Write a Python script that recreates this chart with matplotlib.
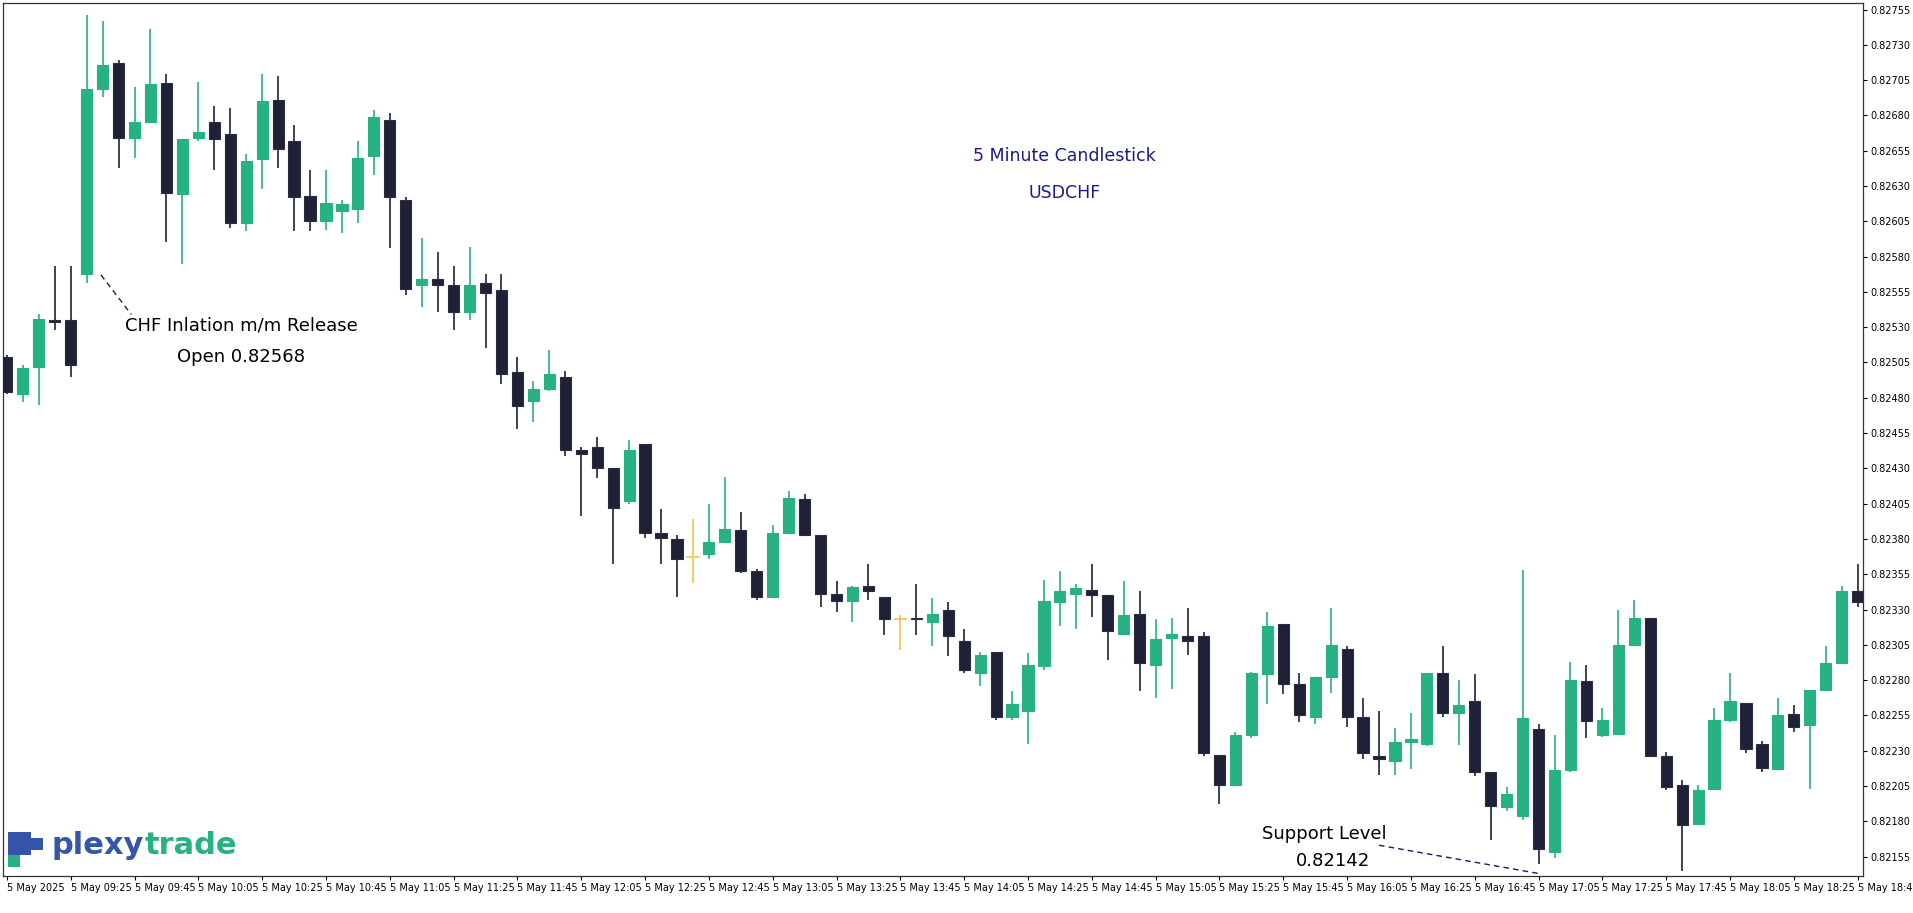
import matplotlib
matplotlib.use("Agg")
import matplotlib.pyplot as plt
from matplotlib.patches import Rectangle

# OHLC in 1e-5 price units (0.8xxxx)
opens = [82509,82483,82502,82535,82535,82568,82699,82717,82664,82675,82703,82624,82664,82675,82667,82604,82649,82691,82662,82623,
         82605,82612,82614,82651,82677,82620,82560,82564,82560,82541,82561,82556,82498,82478,82486,82495,82443,82445,82430,82407,
         82447,82384,82380,82367,82369,82378,82386,82357,82339,82384,82408,82383,82341,82336,82347,82339,82323,82324,82321,82330,
         82308,82285,82300,82254,82258,82290,82335,82341,82344,82340,82313,82327,82291,82310,82311,82311,82227,82206,82241,82284,
         82320,82277,82254,82282,82302,82254,82226,82223,82236,82235,82285,82257,82265,82215,82190,82184,82245,82158,82216,82279,
         82241,82242,82305,82324,82226,82206,82178,82203,82252,82264,82235,82217,82256,82248,82273,82292,82343]
highs = [82510,82503,82539,82573,82573,82751,82747,82719,82700,82741,82709,82663,82704,82687,82685,82653,82709,82708,82673,82641,
         82641,82620,82662,82684,82682,82622,82593,82583,82573,82587,82568,82568,82509,82492,82514,82499,82445,82452,82430,82450,
         82447,82401,82383,82394,82405,82424,82399,82359,82390,82414,82412,82383,82350,82347,82362,82339,82326,82348,82338,82335,
         82316,82300,82300,82272,82299,82351,82357,82348,82362,82340,82350,82343,82323,82324,82331,82314,82227,82243,82286,82328,
         82320,82285,82282,82331,82304,82267,82258,82246,82257,82285,82304,82280,82284,82215,82204,82358,82249,82241,82293,82291,
         82260,82330,82337,82324,82229,82209,82206,82260,82285,82264,82237,82267,82262,82273,82304,82347,82362]
lows  = [82483,82477,82475,82528,82495,82561,82693,82643,82650,82675,82590,82575,82662,82641,82600,82598,82628,82643,82598,82598,
         82599,82597,82604,82638,82586,82553,82544,82541,82528,82535,82515,82490,82458,82463,82485,82439,82396,82423,82362,82405,
         82381,82362,82339,82349,82366,82378,82356,82337,82339,82384,82382,82332,82328,82321,82337,82312,82301,82312,82304,82297,
         82285,82276,82252,82252,82235,82287,82318,82316,82325,82294,82313,82272,82267,82274,82298,82226,82192,82205,82239,82263,
         82270,82250,82249,82271,82247,82224,82213,82213,82217,82233,82254,82234,82212,82167,82187,82181,82150,82154,82215,82239,
         82240,82242,82305,82226,82202,82145,82177,82203,82250,82228,82215,82217,82243,82203,82273,82292,82332]
closes = [82484,82501,82536,82534,82503,82699,82716,82664,82675,82702,82625,82663,82668,82663,82604,82648,82690,82656,82622,82605,
          82618,82617,82650,82679,82622,82557,82564,82560,82541,82560,82554,82497,82474,82486,82497,82443,82440,82430,82402,82443,
          82384,82381,82366,82367,82378,82387,82357,82339,82384,82409,82383,82341,82336,82346,82343,82323,82323,82323,82327,82311,
          82287,82298,82254,82263,82291,82336,82343,82345,82340,82315,82326,82292,82309,82313,82308,82228,82206,82241,82285,82318,
          82277,82255,82282,82305,82254,82228,82224,82236,82238,82285,82257,82262,82215,82191,82199,82253,82160,82216,82280,82251,
          82252,82305,82324,82226,82204,82177,82202,82252,82265,82231,82218,82255,82247,82273,82292,82343,82335]

x_labels = ["5 May 2025", "5 May 09:25", "5 May 09:45", "5 May 10:05", "5 May 10:25", "5 May 10:45", "5 May 11:05",
            "5 May 11:25", "5 May 11:45", "5 May 12:05", "5 May 12:25", "5 May 12:45", "5 May 13:05", "5 May 13:25",
            "5 May 13:45", "5 May 14:05", "5 May 14:25", "5 May 14:45", "5 May 15:05", "5 May 15:25", "5 May 15:45",
            "5 May 16:05", "5 May 16:25", "5 May 16:45", "5 May 17:05", "5 May 17:25", "5 May 17:45", "5 May 18:05",
            "5 May 18:25", "5 May 18:45"]
y_ticks = [0.82155 + 0.00025 * k for k in range(25)]

GREEN = "#26b283"
DARK = "#1f2237"
YEL = "#f2c14e"

fig = plt.figure(figsize=(19.13, 9.13), dpi=100)
ax = fig.add_axes([0.0015, 0.0405, 0.9725, 0.956])
W = 0.7
for i, (o, h, l, c) in enumerate(zip(opens, highs, lows, closes)):
    o, h, l, c = o / 1e5, h / 1e5, l / 1e5, c / 1e5
    if abs(c - o) < 1e-9:
        col = YEL
    elif c > o:
        col = GREEN
    else:
        col = DARK
    ax.plot([i, i], [l, h], color=col, lw=1.2, zorder=2, solid_capstyle="butt")
    if col == YEL:
        ax.plot([i - W / 2, i + W / 2], [o, o], color=col, lw=1.2, zorder=3)
    else:
        lo, hi = min(o, c), max(o, c)
        hgt = max(hi - lo, 0.000012)
        ax.add_patch(Rectangle((i - W / 2, lo), W, hgt, facecolor=col,
                               edgecolor="#2a2d40" if col == DARK else col, lw=0.8, zorder=3))

ax.set_xlim(-0.25, 116.35)
ax.set_ylim(0.821412, 0.827595)
ax.yaxis.tick_right()
ax.set_yticks(y_ticks)
ax.set_yticklabels([f"{v:.5f}" for v in y_ticks], fontsize=7)
ax.set_xticks(range(0, 117, 4))
ax.set_xticklabels(x_labels, fontsize=7, ha="left")
ax.tick_params(axis="both", length=3, width=0.8, colors="black", pad=2)
for s in ax.spines.values():
    s.set_color("#333333")
    s.set_linewidth(0.9)

navy = "#1a1a8c"
ax.text(66.3, 0.82651, "5 Minute Candlestick", color=navy, fontsize=12.5, ha="center", va="center")
ax.text(66.3, 0.82625, "USDCHF", color=navy, fontsize=12.5, ha="center", va="center")
ax.text(14.7, 0.82531, "CHF Inlation m/m Release", color="black", fontsize=13, ha="center", va="center")
ax.text(14.7, 0.82509, "Open 0.82568", color="black", fontsize=13, ha="center", va="center")
ax.plot([5.9, 7.8], [0.82567, 0.82539], color="#1a1a60", lw=1, ls=(0, (4, 3)))
ax.text(82.6, 0.82171, "Support Level", color="black", fontsize=13, ha="center", va="center")
ax.text(83.1, 0.82152, "0.82142", color="black", fontsize=13, ha="center", va="center")
ax.plot([86.0, 96.0], [0.82163, 0.82143], color="#1a1a60", lw=1, ls=(0, (4, 3)))

# logo
blue = "#3556a8"
sq_w, sq_h = 0.0062, 0.013
for (dx, dy, cc) in [(0.004, 0.050, GREEN), (0.004, 0.063, blue), (0.0102, 0.063, blue), (0.0164, 0.069, blue),
                     (0.0102, 0.076, blue), (0.004, 0.076, blue)]:
    fig.patches.append(Rectangle((dx, dy), sq_w, sq_h, transform=fig.transFigure, facecolor=cc, edgecolor="none"))
t1 = fig.text(0.027, 0.058, "plexy", color=blue, fontsize=22, fontweight="bold", va="bottom", ha="left")
r = fig.canvas.get_renderer()
bb = t1.get_window_extent(r).transformed(fig.transFigure.inverted())
fig.text(bb.x1 + 0.0005, 0.058, "trade", color=GREEN, fontsize=22, fontweight="bold", va="bottom", ha="left")

fig.savefig("out.png", dpi=100, facecolor="white")
